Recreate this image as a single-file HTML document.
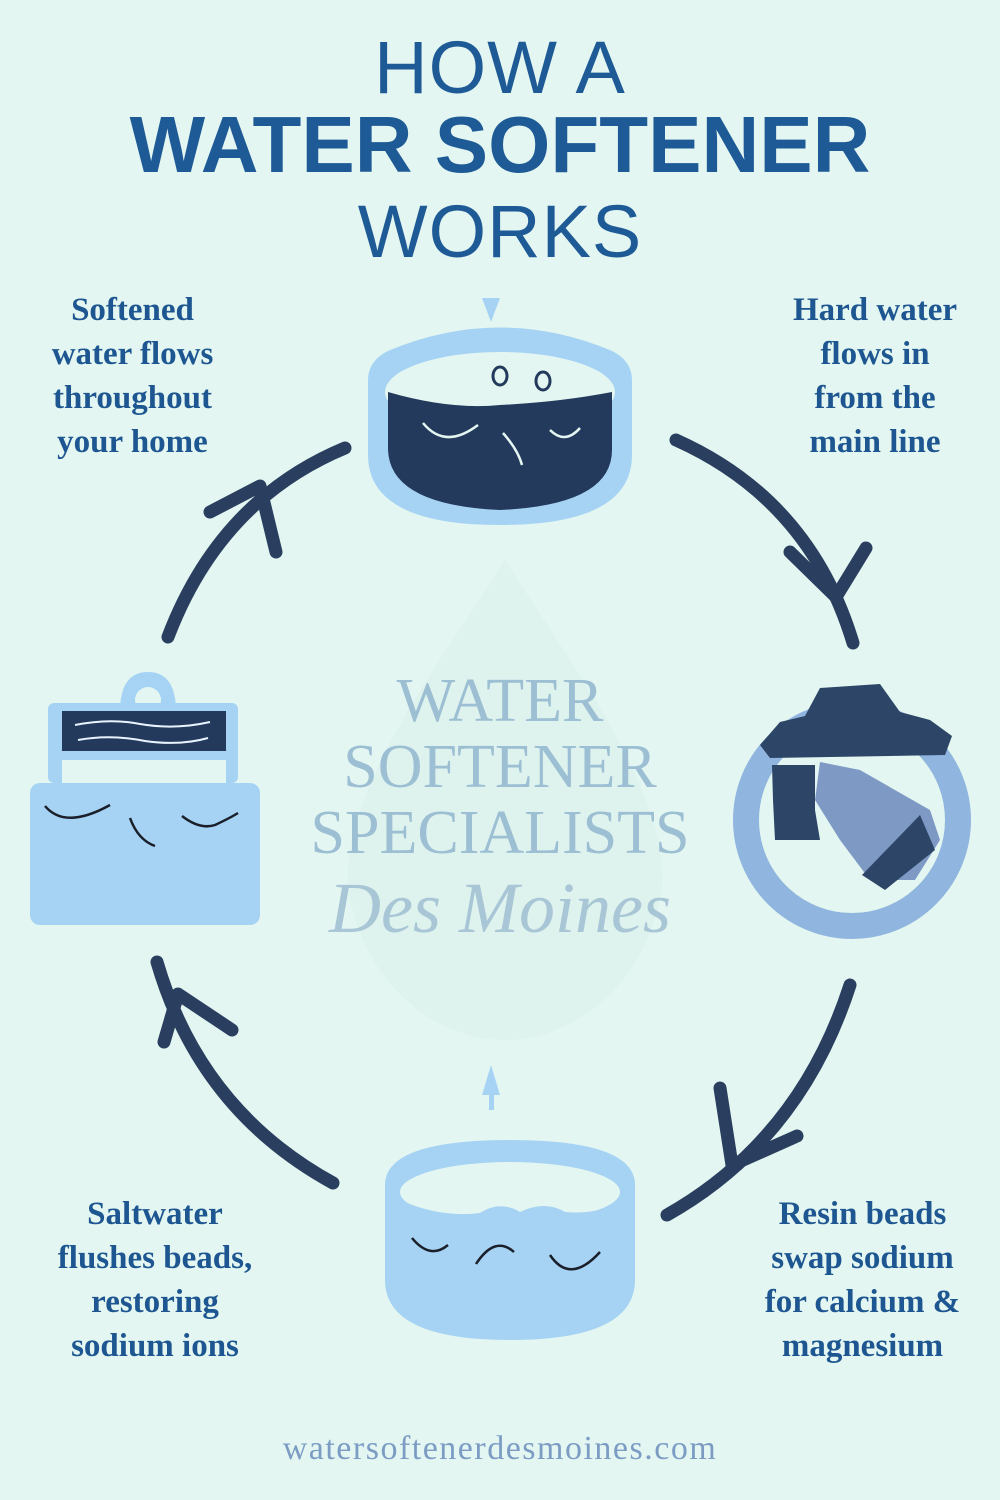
<!DOCTYPE html>
<html><head><meta charset="utf-8"><style>
html,body{margin:0;padding:0}
body{width:1000px;height:1500px;background:#e3f6f1;position:relative;overflow:hidden;font-family:"Liberation Sans",sans-serif}
.t{position:absolute;left:0;width:1000px;text-align:center;color:#1e5a96}
.lbl{position:absolute;text-align:center;color:#1d5690;font-family:"Liberation Serif",serif;font-weight:bold;font-size:33px;line-height:44px}
.wm{position:absolute;left:280px;width:440px;text-align:center;color:#9dbfd3;font-family:"Liberation Serif",serif}
</style></head><body>
<div class="t" style="top:28px;font-size:74px;line-height:80px;letter-spacing:1px">HOW A</div>
<div class="t" style="top:102px;font-size:80px;line-height:86px;font-weight:900">WATER SOFTENER</div>
<div class="t" style="top:192px;font-size:74px;line-height:80px;letter-spacing:1px">WORKS</div>

<svg width="1000" height="1500" style="position:absolute;left:0;top:0">
<path d="M505 560 C560 650 680 800 660 900 C640 990 570 1040 505 1040 C440 1040 370 990 350 900 C330 800 450 650 505 560Z" fill="#d6eeec" opacity="0.45"/>
<g fill="none" stroke="#2a3f5f" stroke-width="13" stroke-linecap="round" stroke-linejoin="round">
<path d="M676 440 Q810 500 853 643"/>
<path d="M790 552 L836 597 L866 548"/>
<path d="M850 985 Q800 1140 667 1215"/>
<path d="M720 1088 L732 1165 L797 1136"/>
<path d="M333 1183 Q200 1110 157 962"/>
<path d="M164 1042 L178 994 L232 1030"/>
<path d="M168 637 Q220 500 345 448"/>
<path d="M210 512 L260 486 L276 552"/>
</g>
<!-- top icon -->
<path d="M482 298 L500 298 L491 322Z" fill="#a6d3f4"/>
<path d="M390 350 Q500 305 610 350 Q632 360 632 380 L632 455 Q632 525 500 525 Q368 525 368 455 L368 380 Q368 360 390 350Z" fill="#a6d3f4"/>
<ellipse cx="500" cy="392" rx="115" ry="40" fill="#e3f6f1"/>
<path d="M388 392 Q450 410 500 405 Q560 402 612 392 L612 450 Q612 505 500 510 Q390 505 388 450Z" fill="#243a5c"/>
<g fill="none" stroke="#e3f6f1" stroke-width="2.5"><path d="M423 423 Q445 450 478 425"/><path d="M503 433 Q518 450 522 465"/><path d="M550 430 Q565 445 580 428"/></g>
<g fill="none" stroke="#243a5c" stroke-width="3"><ellipse cx="500" cy="376" rx="7" ry="9"/><ellipse cx="543" cy="381" rx="7" ry="9"/></g>
<!-- right icon -->
<circle cx="852" cy="820" r="106" fill="none" stroke="#90b6df" stroke-width="26"/>
<path d="M760 745 L780 722 L805 716 L820 688 L880 684 L900 712 L930 720 L952 736 L945 755 L770 758Z" fill="#2d4567"/>
<path d="M772 765 L815 765 L815 810 L820 840 L775 840 L773 800Z" fill="#2d4567"/>
<path d="M820 762 L860 770 L930 810 L940 840 L915 880 L870 880 L840 840 L815 800Z" fill="#7e9ac4"/>
<path d="M920 815 L935 850 L885 890 L862 875Z" fill="#2d4567"/>
<!-- left icon -->
<path d="M120 712 Q120 672 148 672 Q176 672 176 712Z" fill="#a6d3f4"/>
<circle cx="148" cy="700" r="13" fill="#e3f6f1"/>
<rect x="48" y="703" width="190" height="80" rx="6" fill="#a6d3f4"/>
<rect x="62" y="711" width="164" height="40" fill="#243a5c"/>
<g fill="none" stroke="#e8f4ff" stroke-width="2"><path d="M75 725 Q110 718 140 724 Q175 730 210 722"/><path d="M78 740 Q110 734 145 741 Q180 746 208 738"/></g>
<rect x="62" y="760" width="164" height="24" fill="#e3f6f1"/>
<rect x="30" y="783" width="230" height="142" rx="10" fill="#a6d3f4"/>
<g fill="none" stroke="#1a1f2a" stroke-width="2.5"><path d="M45 806 Q65 830 110 805"/><path d="M130 818 Q138 840 155 846"/><path d="M182 816 Q200 830 215 825 Q230 818 238 813"/></g>
<!-- bottom icon -->
<path d="M491 1065 L500 1095 L482 1095Z" fill="#a6d3f4"/><rect x="489" y="1095" width="5" height="15" fill="#a6d3f4"/>
<path d="M385 1185 Q385 1140 510 1140 Q635 1140 635 1185 L635 1280 Q635 1340 510 1340 Q385 1340 385 1280Z" fill="#a6d3f4"/>
<ellipse cx="510" cy="1192" rx="110" ry="30" fill="#e3f6f1"/>
<path d="M400 1200 Q440 1218 480 1213 Q500 1200 520 1212 Q545 1200 565 1212 Q600 1215 620 1200 L620 1230 L400 1230Z" fill="#a6d3f4"/>
<g fill="none" stroke="#1a1f2a" stroke-width="2.5"><path d="M412 1238 Q430 1260 448 1245"/><path d="M476 1264 Q495 1235 514 1252"/><path d="M550 1255 Q570 1285 600 1252"/></g>
</svg>

<div class="wm" style="top:668px;font-size:62px;line-height:66px">WATER<br>SOFTENER<br>SPECIALISTS</div>
<div class="wm" style="top:868px;font-size:72px;line-height:80px;font-style:italic;color:#a9c6d6">Des Moines</div>

<div class="lbl" style="left:10px;width:245px;top:288px">Softened<br>water flows<br>throughout<br>your home</div>
<div class="lbl" style="left:755px;width:240px;top:288px">Hard water<br>flows in<br>from the<br>main line</div>
<div class="lbl" style="left:20px;width:270px;top:1192px">Saltwater<br>flushes beads,<br>restoring<br>sodium ions</div>
<div class="lbl" style="left:735px;width:255px;top:1192px">Resin beads<br>swap sodium<br>for calcium &amp;<br>magnesium</div>

<div class="t" style="top:1430px;font-size:34px;letter-spacing:1.5px;color:#7c9cc4;font-family:'Liberation Serif',serif">watersoftenerdesmoines.com</div>
</body></html>
